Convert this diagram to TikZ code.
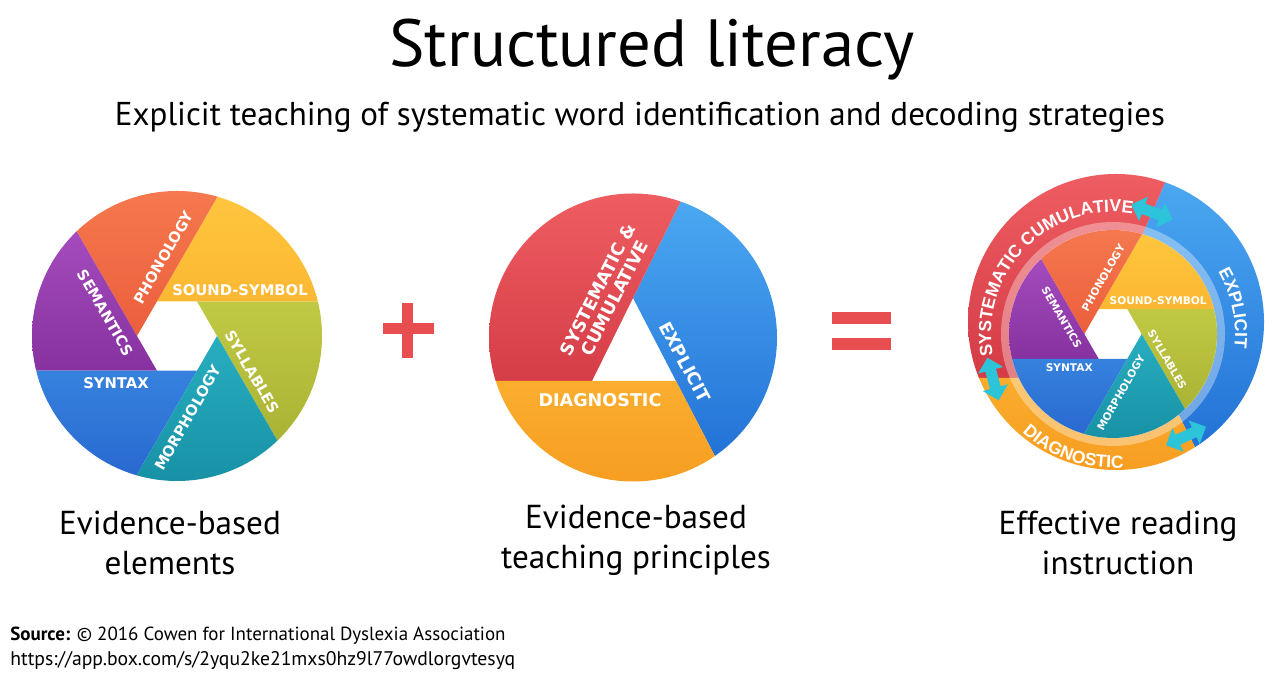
\documentclass[tikz,border=0pt]{standalone}
\usepackage{fontspec}
\setmainfont{PT Sans}
\newfontfamily\bladefont{DejaVu Sans}
\newfontfamily\ringface{Liberation Sans}
\usetikzlibrary{positioning,calc,decorations.text}
\definecolor{PhonLight}{HTML}{F5784E}
\definecolor{PhonDark}{HTML}{E2452A}
\definecolor{SoundLight}{HTML}{FFC63E}
\definecolor{SoundDark}{HTML}{F6A020}
\definecolor{SyllLight}{HTML}{D2DB50}
\definecolor{SyllDark}{HTML}{A4AC30}
\definecolor{MorphLight}{HTML}{38CBDB}
\definecolor{MorphDark}{HTML}{1891A5}
\definecolor{SynLight}{HTML}{4EABF4}
\definecolor{SynDark}{HTML}{2868D0}
\definecolor{SemLight}{HTML}{AE52C6}
\definecolor{SemDark}{HTML}{6E1E88}
\definecolor{SysLight}{HTML}{EE5D62}
\definecolor{SysDark}{HTML}{C92C38}
\definecolor{ExplLight}{HTML}{4CA9F2}
\definecolor{ExplDark}{HTML}{1F6DD4}
\definecolor{DiagLight}{HTML}{FFCB45}
\definecolor{DiagDark}{HTML}{F79E22}
\definecolor{SignRed}{HTML}{E84E50}
\definecolor{SwapCyan}{HTML}{2BC4D8}
\tikzset{
  blade label/.style={text=white,inner sep=0pt,
    font=\bladefont\bfseries\fontsize{8.4}{9}\selectfont},
  principle label/.style={text=white,inner sep=0pt,align=center,
    font=\bladefont\bfseries\fontsize{10}{10.6}\selectfont},
  caption/.style={align=center,inner sep=0pt,
    font=\fontsize{18.9}{22.8}\selectfont},
  source/.style={anchor=west,inner sep=0pt},
  swap arrow/.style={fill=SwapCyan}
}
\newcommand{\ringfont}{\color{white}\ringface\bfseries\fontsize{10}{11}\selectfont}
% six blades round a hexagonal hole, drawn round (0,0), radius 145
\newcommand{\shutterwheel}{%
  \foreach \k in {0,...,5}{
    \coordinate (V\k) at (60*\k:40);
    \coordinate (F\k) at ($(V\k)+(60*\k-60:400)$);
  }
  \foreach \a/\b/\col in {0/1/Syll,1/2/Sound,2/3/Phon,3/4/Sem,4/5/Syn,5/0/Morph}{
    \begin{scope}
      \clip (V\a) -- (V\b) -- (F\b) -- (F\a) -- cycle;
      \shade[top color=\col Light,bottom color=\col Dark] (0,0) circle (145);
    \end{scope}
  }
  \node[blade label,rotate=60] (phon) at (-13.5,78.5) {PHONOLOGY};
  \node[blade label] (sound) at (63,46) {SOUND-SYMBOL};
  \node[blade label,rotate=-60] (syll) at (75.5,-36) {SYLLABLES};
  \node[blade label,rotate=60] (morph) at (11,-82) {MORPHOLOGY};
  \node[blade label] (syn) at (-61,-47) {SYNTAX};
  \node[blade label,rotate=-60] (sem) at (-71.5,23) {SEMANTICS};
}

\begin{document}
\begin{tikzpicture}[x=0.02cm,y=0.02cm]
  \useasboundingbox (0,0) rectangle (1280,688);

  % titles
  \node (title) at (652,638) {\fontsize{38}{40}\selectfont Structured literacy};
  \node (subtitle) at (640,571) {\fontsize{18.8}{20}\selectfont Explicit teaching of systematic word identification and decoding strategies};

  % left wheel
  \begin{scope}[shift={(177,352)},name prefix=lw-]
    \shutterwheel
  \end{scope}

  % plus and equals
  \fill[SignRed] (383.3,353.7) rectangle (434,364.7);
  \fill[SignRed] (401.7,329.7) rectangle (413.3,385.3);
  \fill[SignRed] (832.3,364) rectangle (890.7,375.7);
  \fill[SignRed] (832.3,338) rectangle (890.7,349.7);

  % middle wheel
  \coordinate (mid) at (633,350.5);
  \coordinate (mt) at (633,390);
  \coordinate (ml) at (592,307);
  \coordinate (mr) at (676,307);
  \coordinate (mt-far) at ($(ml)!5!(mt)$);
  \coordinate (ml-far) at ($(mr)!6!(ml)$);
  \coordinate (mr-far) at ($(mt)!5!(mr)$);
  \foreach \a/\b/\col in {r/t/Expl,t/l/Sys,l/r/Diag}{
    \begin{scope}
      \clip (m\a) -- (m\b) -- (m\b-far) -- (m\a-far) -- cycle;
      \shade[top color=\col Light,bottom color=\col Dark] (mid) circle (144);
    \end{scope}
  }
  \node[principle label,rotate=63] (sys) at (606,394) {SYSTEMATIC \&\\CUMULATIVE};
  \node[principle label,rotate=-62] (expl) at (685,326) {EXPLICIT};
  \node[principle label] (diag) at (600,288) {DIAGNOSTIC};

  % right wheel: outer ring of principles
  \coordinate (ring) at (1116,366);
  \coordinate (rt) at (1117,395);
  \coordinate (rl) at (1080,310);
  \coordinate (rr) at (1160,310);
  \coordinate (rt-far) at ($(rl)!5!(rt)$);
  \coordinate (rl-far) at ($(rr)!6!(rl)$);
  \coordinate (rr-far) at ($(rt)!5!(rr)$);
  \foreach \a/\b/\col in {r/t/Expl,t/l/Sys,l/r/Diag}{
    \begin{scope}
      \clip (r\a) -- (r\b) -- (r\b-far) -- (r\a-far) -- cycle;
      \shade[top color=\col Light,bottom color=\col Dark] (ring) circle (148);
    \end{scope}
  }
  % inner wheel of elements
  \coordinate (hub) at (1113,354);
  \fill[white,opacity=0.35,even odd rule] (hub) circle (112) circle (104);
  \fill[white] (hub) circle (104);
  \begin{scope}[shift={(1113,354)},scale=0.717,transform shape,name prefix=rw-]
    \shutterwheel
  \end{scope}
  \path[decorate,decoration={text along path,text align=center,
      text={|\ringfont|SYSTEMATIC CUMULATIVE}}]
    ($(hub)+(193:122)$) arc[start angle=193,end angle=78,radius=122];
  \path[decorate,decoration={text along path,text align=center,
      text={|\ringfont|EXPLICIT}}]
    ($(hub)+(36:122)$) arc[start angle=36,end angle=-12,radius=122];
  \path[decorate,decoration={text along path,text align=center,
      text={|\ringfont|DIAGNOSTIC}}]
    ($(hub)+(218:134)$) arc[start angle=218,end angle=284,radius=134];
  % two-way arrows between the principles
  \foreach \px/\py/\ang in {1152/476/-20,993/309/-75,1186/252/25}{
    \begin{scope}[shift={(\px,\py)},rotate=\ang]
      \fill[swap arrow] (-22,0) -- (-9,13) -- (-9,5.5) -- (9,5.5) -- (9,13)
        -- (22,0) -- (9,-13) -- (9,-5.5) -- (-9,-5.5) -- (-9,-13) -- cycle;
    \end{scope}
  }

  % captions
  \node[caption] (cap1) at (170,145) {Evidence-based\\elements};
  \node[caption] (cap2) at (636,148) {Evidence-based\\teaching principles};
  \node[caption] (cap3) at (1118,145) {Effective reading\\instruction};

  % source
  \node[source] (src) at (10,52)
    {\fontsize{10.8}{12}\selectfont\textbf{Source:} © 2016 Cowen for International Dyslexia Association};
  \node[source] (url) at (10,27)
    {\fontsize{11.2}{12}\selectfont https://app.box.com/s/2yqu2ke21mxs0hz9l77owdlorgvtesyq};
\end{tikzpicture}
\end{document}
